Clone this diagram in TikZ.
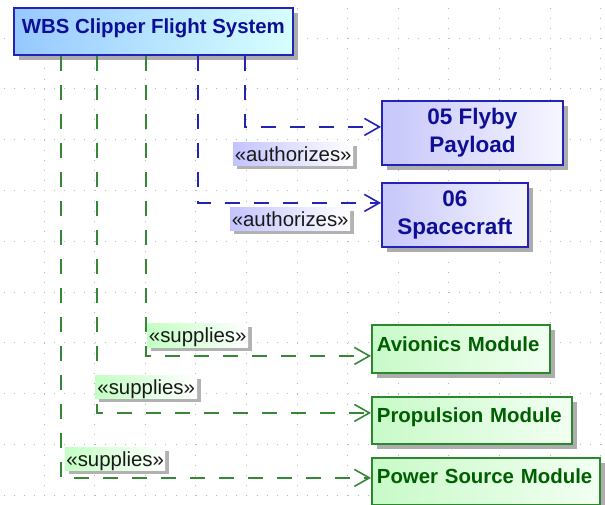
\documentclass[tikz,border=0pt]{standalone}
\usepackage{fontspec}
\setmainfont{Liberation Sans}
\usetikzlibrary{arrows.meta,shadows}
\definecolor{topL}{RGB}{150,200,255}
\definecolor{topR}{RGB}{215,255,255}
\definecolor{bborder}{RGB}{35,35,185}
\definecolor{btext}{RGB}{15,15,150}
\definecolor{bfillL}{RGB}{198,198,250}
\definecolor{bfillR}{RGB}{246,246,255}
\definecolor{gborder}{RGB}{45,135,45}
\definecolor{gtext}{RGB}{0,95,0}
\definecolor{gfillL}{RGB}{200,250,200}
\definecolor{gfillR}{RGB}{242,255,242}
\definecolor{gline}{RGB}{55,135,55}
\definecolor{bline}{RGB}{35,35,180}
\definecolor{alabL}{RGB}{195,195,255}
\definecolor{slabL}{RGB}{195,255,195}
\definecolor{griddotc}{RGB}{185,185,185}
\tikzset{
  shad/.style={drop shadow={shadow xshift=5pt,shadow yshift=-5pt,fill=black!32,opacity=1}},
  lshad/.style={drop shadow={shadow xshift=4pt,shadow yshift=-4pt,fill=black!30,opacity=1}},
  topbox/.style={shad,draw=bborder,line width=1.8pt,left color=topL,right color=topR,
     text=btext,font=\fontsize{20.4pt}{24pt}\selectfont\bfseries,
     text height=15pt,text depth=10pt,inner sep=0pt,anchor=north west},
  bluebox/.style={shad,draw=bborder,line width=1.8pt,left color=bfillL,right color=bfillR,
     text=btext,font=\fontsize{22.5pt}{28pt}\selectfont\bfseries,align=center,
     inner sep=0pt,anchor=north west},
  greenbox/.style={shad,draw=gborder,line width=1.8pt,left color=gfillL,right color=gfillR,
     text=gtext,font=\fontsize{20.4pt}{24pt}\selectfont\bfseries,align=left,
     text height=15pt,text depth=10pt,inner xsep=5pt,inner ysep=0pt,anchor=north west},
  alab/.style={lshad,left color=alabL,right color=white,text=black!90,
     font=\fontsize{20.4pt}{24pt}\selectfont,text depth=0pt,inner sep=0pt,anchor=north west},
  slab/.style={lshad,left color=slabL,right color=white,text=black!90,
     font=\fontsize{20.4pt}{24pt}\selectfont,text depth=0pt,inner sep=0pt,anchor=north west},
  authline/.style={draw=bline,line width=1.7pt,dash pattern=on 15pt off 14pt,
     -{Straight Barb[length=15pt,width=17pt,line width=1.6pt]}},
  supline/.style={draw=gline,line width=1.7pt,dash pattern=on 15pt off 14pt,
     -{Straight Barb[length=15pt,width=17pt,line width=1.6pt]}},
  griddot/.style={draw=griddotc,line width=1pt},
}
\begin{document}
\begin{tikzpicture}[x=1pt,y=-1pt]
\useasboundingbox (0,0) rectangle (605,504);
\fill[white] (0,0) rectangle (605,504);
% background grid
\foreach \i in {0,...,11}
  \draw[griddot,dash pattern=on 1pt off 9.16pt,dash phase=2.64pt] ({44+50.6*\i},0) -- ({44+50.6*\i},504);
\foreach \j in {0,...,9}
  \draw[griddot,dash pattern=on 1pt off 9.12pt,dash phase=6.6pt] (0,{38+50.8*\j}) -- (605,{38+50.8*\j});

% nodes
\node[topbox,minimum width=279pt,minimum height=47pt] (wbs) at (13,7) {WBS Clipper Flight System};
\node[bluebox,minimum width=181pt,minimum height=64pt] (fp) at (381,100) {05 Flyby\\Payload};
\node[bluebox,minimum width=146pt,minimum height=64pt] (sc) at (381,182) {06\\Spacecraft};
\node[greenbox,text width=168pt,minimum height=48pt] (av) at (371,324) {Avionics Module};
\node[greenbox,text width=190pt,minimum height=47pt] (pr) at (371,396) {Propulsion Module};
\node[greenbox,text width=218pt,minimum height=47pt] (ps) at (371,457) {Power Source Module};

% connectors
\draw[authline] ([xshift=91.5pt]wbs.south) |- ([yshift=6pt]fp.west);
\draw[authline] ([xshift=44.5pt]wbs.south) |- ([yshift=12pt]sc.west);
\draw[supline] ([xshift=-7.5pt]wbs.south) |- ([yshift=-7pt]av.west);
\draw[supline] ([xshift=-56.5pt]wbs.south) |- ([yshift=7.5pt]pr.west);
\draw[supline] ([xshift=-92.5pt]wbs.south) |- ([yshift=3.5pt]ps.west);

% labels
\node[alab,minimum width=120pt,minimum height=23pt] (a1) at (233,142) {«authorizes»};
\node[alab,minimum width=120pt,minimum height=23pt] (a2) at (230,207) {«authorizes»};
\node[slab,minimum width=101pt,minimum height=24pt] (s1) at (147,323) {«supplies»};
\node[slab,minimum width=102pt,minimum height=23pt] (s2) at (95,375) {«supplies»};
\node[slab,minimum width=100pt,minimum height=23pt] (s3) at (65,447) {«supplies»};
\end{tikzpicture}
\end{document}
